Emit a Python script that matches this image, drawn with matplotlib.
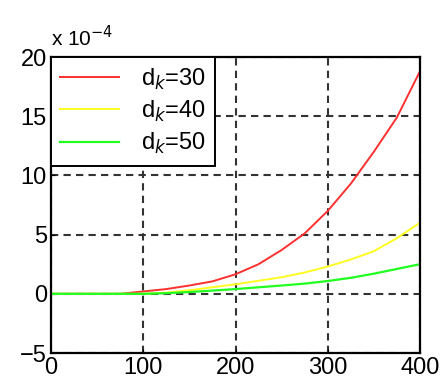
import matplotlib
matplotlib.use("Agg")
import matplotlib.pyplot as plt

plt.rcParams['font.family'] = ['Liberation Sans', 'DejaVu Sans']

# x grid and curves, y values in units of 1e-4
x = [0, 25, 50, 75, 100, 125, 150, 175, 200, 225, 250, 275, 300, 325, 350, 375, 400]
d30 = [0, 0, 0, 0, 0.2, 0.4, 0.7, 1.05, 1.65, 2.5, 3.7, 5.1, 7.0, 9.3, 12.0, 14.9, 18.8]
d40 = [0, 0, 0, 0, 0, 0.1, 0.3, 0.55, 0.8, 1.1, 1.4, 1.8, 2.3, 2.9, 3.6, 4.7, 6.0]
d50 = [0, 0, 0, 0, 0, 0.05, 0.15, 0.27, 0.4, 0.55, 0.7, 0.86, 1.08, 1.35, 1.7, 2.1, 2.5]
labels = ['d$_k$=30', 'd$_k$=40', 'd$_k$=50']
xticks = [0, 100, 200, 300, 400]
yticks = [-5, 0, 5, 10, 15, 20]

fig = plt.figure(figsize=(4.41, 3.83), dpi=100)
ax = fig.add_axes([51/441, 1-353/383, 369/441, 296/383])

ax.plot(x, d30, color='#ff3030', lw=1.4, label=labels[0])
ax.plot(x, d40, color='#ffff20', lw=1.4, label=labels[1])
ax.plot(x, d50, color='#20ff20', lw=1.6, label=labels[2])

ax.set_xlim(0, 400)
ax.set_ylim(-5, 20)
ax.set_xticks(xticks)
ax.set_yticks(yticks)
ax.grid(True, color='#333333', ls=(0, (3.5, 2.5)), lw=1.5)
ax.tick_params(direction='in', length=3, labelsize=17, colors='black', pad=3)
for s in ax.spines.values():
    s.set_linewidth(1.6)

fig.text(51/441, 1-46/383, 'x 10$^{-4}$', fontsize=15, ha='left', va='baseline')

leg = ax.legend(loc='upper left', bbox_to_anchor=(0, 1), borderaxespad=0,
                fontsize=17, frameon=True, fancybox=False, framealpha=1,
                edgecolor='black', handlelength=2.5, handletextpad=0.9,
                labelspacing=0.3, borderpad=0.4)
leg.get_frame().set_linewidth(1.4)

fig.savefig('out.png', dpi=100)
